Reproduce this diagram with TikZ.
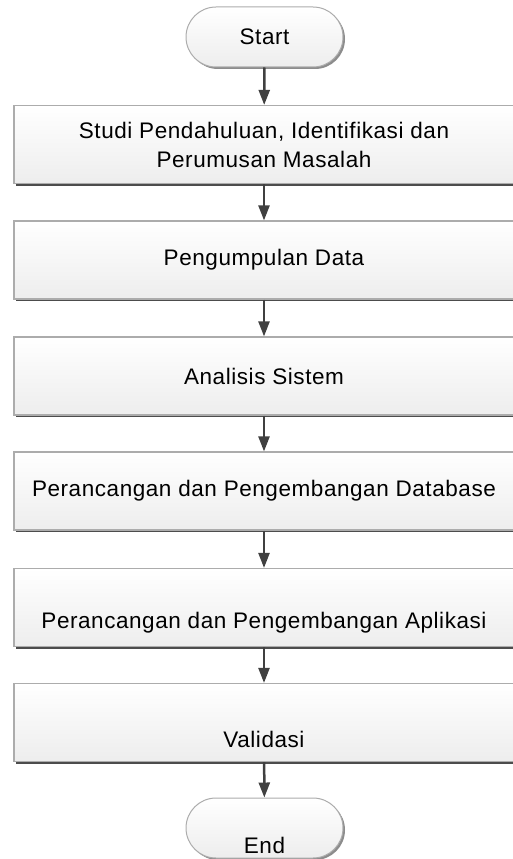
\documentclass[tikz,border=0pt]{standalone}
\usepackage{fontspec}
\setmainfont{Liberation Sans}[LetterSpace=2.5]
\usepackage{tikz}
\usetikzlibrary{shapes}
\usetikzlibrary{shadows}
\usetikzlibrary{arrows.meta}
\newcommand{\boxfont}{\fontsize{22.5}{29}\selectfont}

\begin{document}
\begin{tikzpicture}[x=1pt, y=1pt,
  every node/.style={font=\boxfont, text=black, inner sep=0pt},
  stepbox/.style={rectangle, draw=gray!65, line width=1.2pt,
    top color=white, bottom color=gray!14,
    minimum width=500pt, minimum height=78pt, align=center,
    drop shadow={shadow xshift=2pt, shadow yshift=-2pt, fill=black!70, opacity=1}},
  term/.style={rounded rectangle, draw=gray!65, line width=1pt,
    top color=white, bottom color=gray!14,
    minimum width=157pt, minimum height=60pt,
    drop shadow={shadow xshift=2pt, shadow yshift=-2pt, fill=black!45, opacity=1}},
  flow/.style={-{Triangle[length=15pt,width=11pt]}, line width=2.5pt, draw=black!75}]
  \useasboundingbox (0, 0) rectangle (513, -859);

  \node[term] (start) at (264.5, -37) {Start};
  \node[stepbox] (studi) at (264, -144.5) {Studi Pendahuluan, Identifikasi dan\\Perumusan Masalah};
  \node[stepbox] (data) at (264, -260) {Pengumpulan Data};
  \node[stepbox] (analisis) at (264, -376) {Analisis Sistem};
  \node[stepbox] (db) at (264, -491) {Perancangan dan Pengembangan Database};
  \node[stepbox, text height=46pt, text depth=4pt] (apl) at (264, -607.5) {Perancangan dan Pengembangan Aplikasi};
  \node[stepbox, text height=49pt, text depth=0pt] (valid) at (264, -722.5) {Validasi};
  \node[term, text height=50pt, text depth=0pt] (end) at (264.5, -828) {End};

  \draw[flow] (start) -- (studi);
  \draw[flow] (studi) -- (data);
  \draw[flow] (data) -- (analisis);
  \draw[flow] (analisis) -- (db);
  \draw[flow] (db) -- (apl);
  \draw[flow] (apl) -- (valid);
  \draw[flow] (valid) -- (end);
\end{tikzpicture}
\end{document}
